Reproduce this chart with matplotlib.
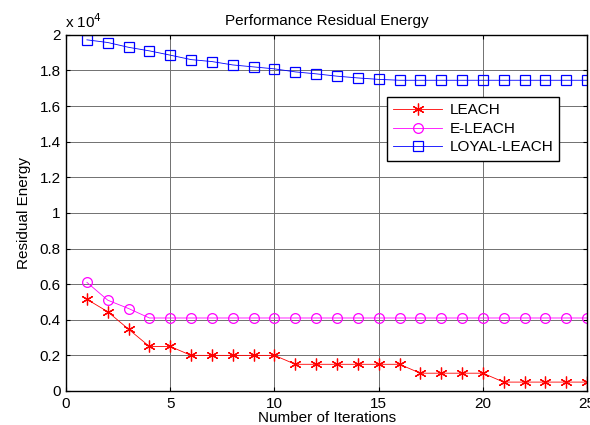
import numpy as np
import matplotlib.pyplot as plt

plt.rcParams['font.family'] = ['Liberation Sans', 'DejaVu Sans']

# iterations
x = np.arange(1, 26)

# residual energy, in units of 10^4
leach = [0.515, 0.445, 0.347, 0.25, 0.25, 0.2, 0.2, 0.2, 0.2, 0.2,
         0.15, 0.15, 0.15, 0.15, 0.15, 0.15, 0.1, 0.1, 0.1, 0.1,
         0.05, 0.05, 0.05, 0.05, 0.05]
e_leach = [0.61, 0.51, 0.463] + [0.41] * 22
loyal_leach = [1.972, 1.957, 1.93, 1.91, 1.886, 1.861, 1.85, 1.831, 1.82, 1.809,
               1.792, 1.781, 1.768, 1.758, 1.75] + [1.745] * 10

fig = plt.figure(figsize=(5.9, 4.25), dpi=100)
ax = fig.add_axes([0.112, 0.08, 0.883, 0.838])

# asterisk marker like matlab '*'
ax.plot(x, leach, color='red', marker=(6, 2, 0), markersize=8.5, lw=0.6,
        markeredgewidth=0.9, label='LEACH')
ax.plot(x, e_leach, color='magenta', marker='o', markersize=7, lw=0.6,
        markerfacecolor='none', markeredgewidth=0.9, label='E-LEACH')
ax.plot(x, loyal_leach, color='blue', marker='s', markersize=7, lw=0.6,
        markerfacecolor='none', markeredgewidth=0.9, label='LOYAL-LEACH')

ax.set_xlim(0, 25)
ax.set_ylim(0, 2)
ax.set_xticks(np.arange(0, 26, 5))
ax.set_yticks(np.arange(0, 2.01, 0.2))
ax.set_yticklabels(['0', '0.2', '0.4', '0.6', '0.8', '1', '1.2', '1.4', '1.6', '1.8', '2'])
ax.tick_params(direction='in', top=True, right=True, labelsize=11, length=3, pad=4)
ax.grid(True, color='#707070', lw=0.7)
ax.set_axisbelow(True)
for s in ax.spines.values():
    s.set_linewidth(1.0)

ax.set_title('Performance Residual Energy', fontsize=11, pad=7)
ax.set_xlabel('Number of Iterations', fontsize=11, labelpad=0)
ax.set_ylabel('Residual Energy', fontsize=11, labelpad=6)
ax.text(-0.002, 1.012, r'x 10$^4$', transform=ax.transAxes, fontsize=11,
        ha='left', va='bottom')

leg = ax.legend(loc='upper left', bbox_to_anchor=(0.616, 0.825), fontsize=11,
                fancybox=False, framealpha=1, edgecolor='black',
                handlelength=3.2, handletextpad=0.5, borderpad=0.4,
                labelspacing=0.3, borderaxespad=0)
leg.get_frame().set_linewidth(1.0)

fig.savefig('out.png', dpi=100)
